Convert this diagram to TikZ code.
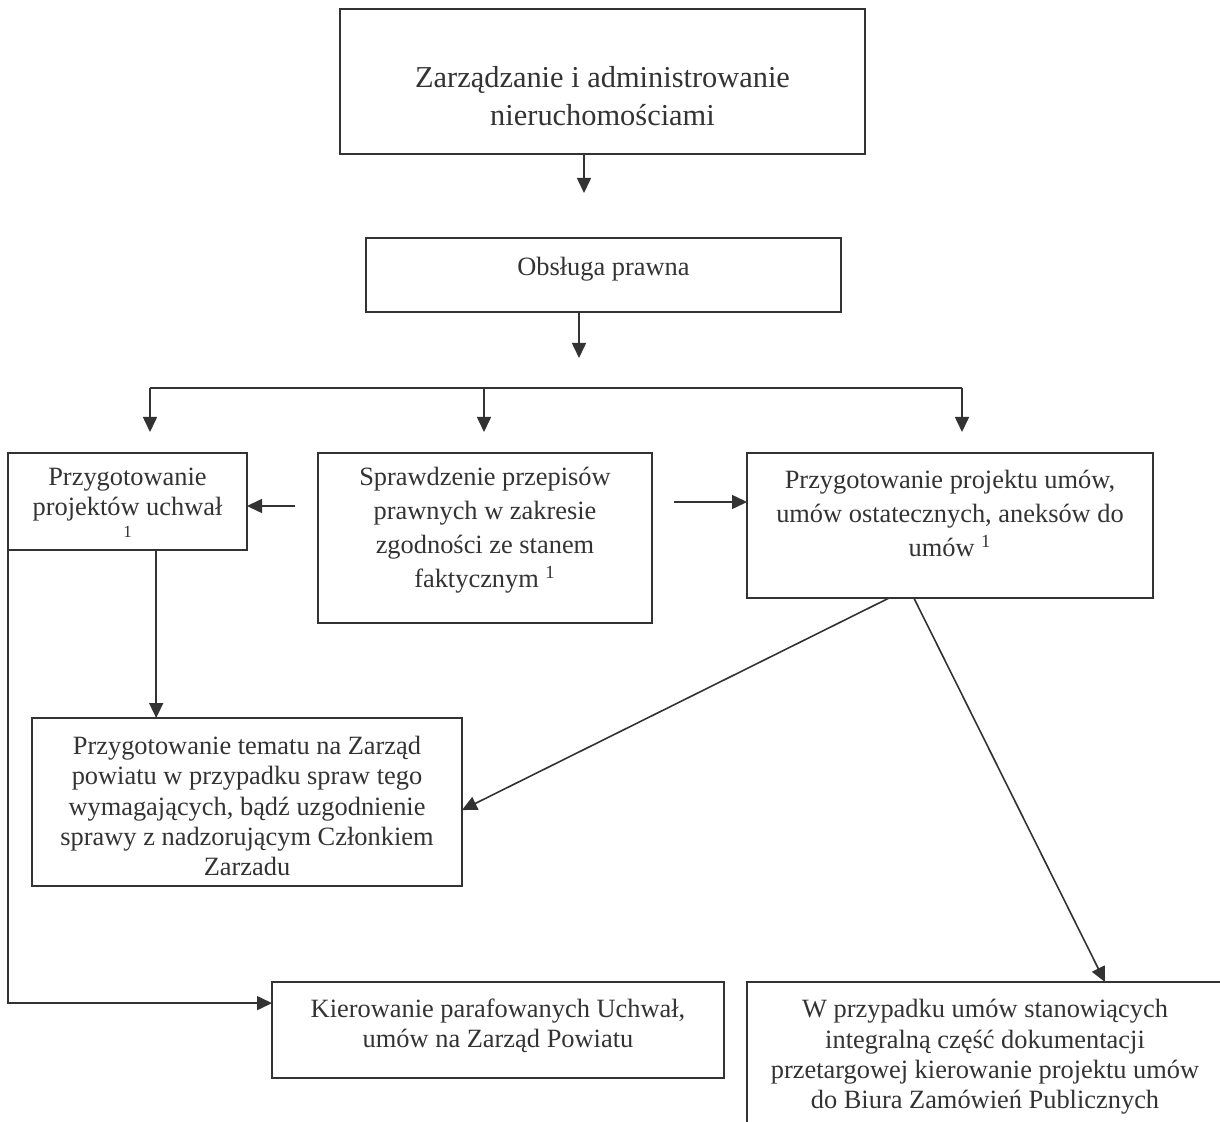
\documentclass[tikz,border=0pt]{standalone}
\usepackage{fontspec}
\setmainfont{Liberation Serif}
\usetikzlibrary{arrows.meta,calc}
\definecolor{ink}{HTML}{333333}
\begin{document}
\begin{tikzpicture}[x=0.5pt,y=-0.5pt,
  box/.style={draw=ink, line width=0.9pt, inner sep=0pt, outer sep=0pt, rectangle},
  txt/.style={text=ink, align=center, inner sep=0pt, font=\fontsize{13.2}{17}\selectfont},
  txtb/.style={txt, font=\fontsize{13.2}{15.2}\selectfont},
  arr/.style={draw=ink, line width=0.8pt, -{Triangle[length=7.5pt,width=7pt]}},
  ln/.style={draw=ink, line width=0.8pt}]
\useasboundingbox[fill=white] (0,0) rectangle (1220,1122);
\clip (0,0) rectangle (1220,1122);

% boxes
\node[box, minimum width=262.5pt, minimum height=72.5pt] (top) at (602.5,81.5) {};
\node[box, minimum width=237.5pt, minimum height=37pt] (obs) at (603.5,275) {};
\node[box, minimum width=119.5pt, minimum height=48.5pt] (A) at (127.5,501.5) {};
\node[box, minimum width=167pt, minimum height=85pt] (B) at (485,538) {};
\node[box, minimum width=203pt, minimum height=72.5pt] (C) at (950,525.5) {};
\node[box, minimum width=215pt, minimum height=84pt] (D) at (247,802) {};
\node[box, minimum width=226pt, minimum height=48pt] (E) at (498,1030) {};
\node[box, minimum width=238pt, minimum height=89pt] (F) at (985,1071) {};

% texts
\node[txt, font=\fontsize{15.2}{19}\selectfont] (topT) at (602.5,96) {Zarządzanie i administrowanie\\nieruchomościami};
\node[txt] (obsT) at (603.5,269) {Obsługa prawna};
\node[txtb, font=\fontsize{13.2}{15}\selectfont] (AT) at (127.5,495) {Przygotowanie\\projektów uchwał};
\node[txt, font=\fontsize{8.5}{9}\selectfont] (A1) at (127.5,532) {1};
\node[txt] (BT) at (485,530) {Sprawdzenie przepisów\\prawnych w zakresie\\zgodności ze stanem\\faktycznym \textsuperscript{1}};
\node[txt] (CT) at (950,513) {Przygotowanie projektu umów,\\umów ostatecznych, aneksów do\\umów \textsuperscript{1}};
\node[txtb] (DT) at (247,806) {Przygotowanie tematu na Zarząd\\powiatu w przypadku spraw tego\\wymagających, bądź uzgodnienie\\sprawy z nadzorującym Członkiem\\Zarzadu};
\node[txtb] (ET) at (498,1026) {Kierowanie parafowanych Uchwał,\\umów na Zarząd Powiatu};
\node[txtb] (FT) at (985,1057) {W przypadku umów stanowiących\\integralną część dokumentacji\\przetargowej kierowanie projektu umów\\do Biura Zamówień Publicznych};

% free ends
\coordinate (t1) at (584,193);
\coordinate (t2) at (579,358);
\coordinate (bl) at (150,388);
\coordinate (bm) at (484,388);
\coordinate (br) at (962,388);
\coordinate (dl) at (150,432);
\coordinate (dm) at (484,432);
\coordinate (dr) at (962,432);
\coordinate (bA) at (295,506);
\coordinate (bC) at (674,502);
\coordinate (aD) at ($(A.south west)!0.62!(A.south east)$);

% connectors
\draw[arr] (top.south -| t1) -- (t1);
\draw[arr] (obs.south -| t2) -- (t2);
\draw[ln] (bl) -- (br);
\draw[arr] (bl) -- (dl);
\draw[arr] (bm) -- (dm);
\draw[arr] (br) -- (dr);
\draw[arr] (bA) -- (A.east |- bA);
\draw[arr] (bC) -- (C.west |- bC);
\draw[arr] (aD) -- (D.north -| aD);
\draw[arr] ($(C.south west)!0.35!(C.south east)$) -- ($(D.north east)!0.548!(D.south east)$);
\draw[arr] ($(C.south west)!0.411!(C.south east)$) -- ($(F.north west)!0.752!(F.north east)$);
\draw[arr] (A.south west) |- ($(E.north west)!0.22!(E.south west)$);
\end{tikzpicture}
\end{document}
